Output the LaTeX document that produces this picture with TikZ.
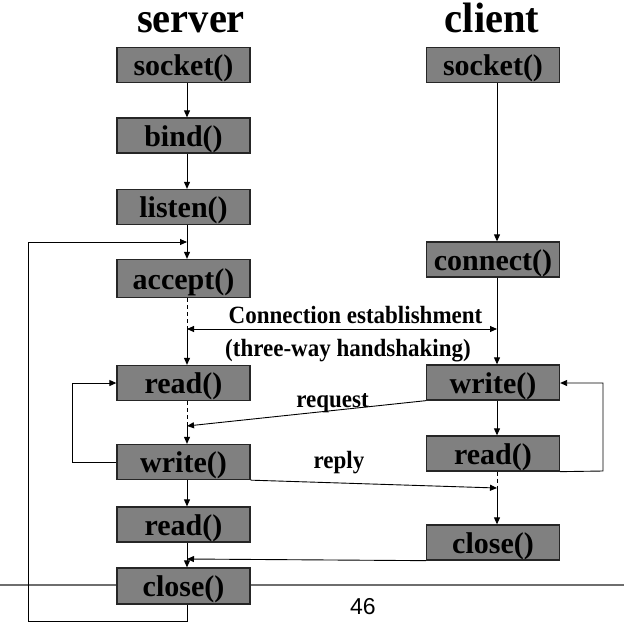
\documentclass[tikz,border=0pt]{standalone}
\usepackage{graphicx}
\usepackage{fontspec}
\setmainfont{Liberation Serif}
\newfontfamily\footfont{Liberation Sans}
\usetikzlibrary{arrows.meta,calc}
\definecolor{boxgray}{HTML}{808080}
\definecolor{footgray}{HTML}{6E6E6E}
\newcommand\tallttl[1]{\scalebox{1}[1.05]{#1}}
\newcommand\talllbl[1]{\scalebox{1}[1.08]{#1}}
\begin{document}
\begin{tikzpicture}[x=1pt,y=-1pt,
  fn/.style={draw=black!85,line width=1.3pt,fill=boxgray,minimum width=133pt,minimum height=35pt,inner sep=0pt,text height=23pt,text depth=2pt,font=\fontsize{30}{30}\selectfont\bfseries},
  ttl/.style={font=\fontsize{40.5}{40}\selectfont\bfseries,inner sep=0pt,anchor=base},
  lbl/.style={font=\fontsize{23}{23}\selectfont\bfseries,inner sep=0pt,anchor=base},
  conn/.style={line width=0.9pt,-{Triangle[length=7pt,width=6pt]}},
  plain/.style={line width=0.9pt},
  dsh/.style={line width=0.9pt,dashed,dash pattern=on 4pt off 3pt}]
\useasboundingbox (0,0) rectangle (624,638);
% footer line
\draw[footgray,line width=1.5pt] (0,585) -- (624,585);
\node[font=\footfont\fontsize{23}{23}\selectfont,inner sep=0pt,anchor=base] (pg) at (363,614) {46};
% column x positions
\coordinate (sx) at (187,0);
\coordinate (cx) at (497,0);
% titles
\node[ttl] (tserver) at (191,32) {\tallttl{server}};
\node[ttl] (tclient) at (492,32) {\tallttl{client}};
% server boxes
\node[fn] (ssock) at (183.5,65) {socket()};
\node[fn] (sbind) at (183.5,135.5) {bind()};
\node[fn] (slist) at (183.5,207) {listen()};
\node[fn,minimum height=38pt] (sacc) at (183.5,278.5) {accept()};
\node[fn] (sread) at (183.5,383) {read()};
\node[fn] (swrite) at (183.5,462) {write()};
\node[fn] (sread2) at (183.5,524.5) {read()};
\node[fn,minimum height=36pt] (sclose) at (183.5,586) {close()};
% client boxes
\node[fn] (csock) at (493,65) {socket()};
\node[fn] (cconn) at (493,259.5) {connect()};
\node[fn] (cwrite) at (493,382.5) {write()};
\node[fn] (cread) at (493,453.5) {read()};
\node[fn] (cclose) at (493,542.5) {close()};
% junction coordinates
\coordinate (sj1) at (187,329);
\coordinate (cj1) at (497,329);
\coordinate (sj2) at (187,426);
\coordinate (cj2) at (497,488);
\coordinate (sj3) at (187,559);
\coordinate (loopin) at (187,242);
% server chain
\draw[conn] (ssock.south -| sx) -- (sbind.north -| sx);
\draw[conn] (sbind.south -| sx) -- (slist.north -| sx);
\draw[conn] (slist.south -| sx) -- (sacc.north -| sx);
\draw[dsh] (sacc.south -| sx) -- (sj1);
\draw[conn] (sj1) -- (sread.north -| sx);
\draw[dsh] (sread.south -| sx) -- (sj2);
\draw[conn] (sj2) -- (swrite.north -| sx);
\draw[conn] (swrite.south -| sx) -- (sread2.north -| sx);
\draw[conn] (sread2.south -| sx) -- (sclose.north -| sx);
% server loops
\draw[conn] (sclose.south -| sx) -- (187,621) -- (28,621) -- (28,242) -- (loopin);
\draw[conn] (swrite.west) -- (72,462) -- (72,383) -- (sread.west |- 0,383);
% client chain
\draw[conn] (csock.south -| cx) -- (cconn.north -| cx);
\draw[conn] (cconn.south -| cx) -- (cwrite.north -| cx);
\draw[conn] (cwrite.south -| cx) -- (cread.north -| cx);
\draw[dsh] (cread.south -| cx) -- (cj2);
\draw[conn] (cj2) -- (cclose.north -| cx);
\draw[conn] (cread.south east) -- (603,471) -- (603,383) -- (cwrite.east |- 0,383);
% cross connections
\draw[plain,{Triangle[length=7pt,width=6pt]}-{Triangle[length=7pt,width=6pt]}] (sj1) -- (cj1);
\draw[conn] (cwrite.south west) -- (sj2);
\draw[conn] (swrite.south east) -- (cj2);
\draw[conn] (cclose.south west) -- (sj3);
% labels
\node[lbl] (lconn) at (355.5,323) {\talllbl{Connection establishment}};
\node[lbl] (lhand) at (348,356) {\talllbl{(three-way handshaking)}};
\node[lbl] (lreq) at (332.5,407) {\talllbl{request}};
\node[lbl] (lrep) at (339,468) {\talllbl{reply}};
\end{tikzpicture}
\end{document}
